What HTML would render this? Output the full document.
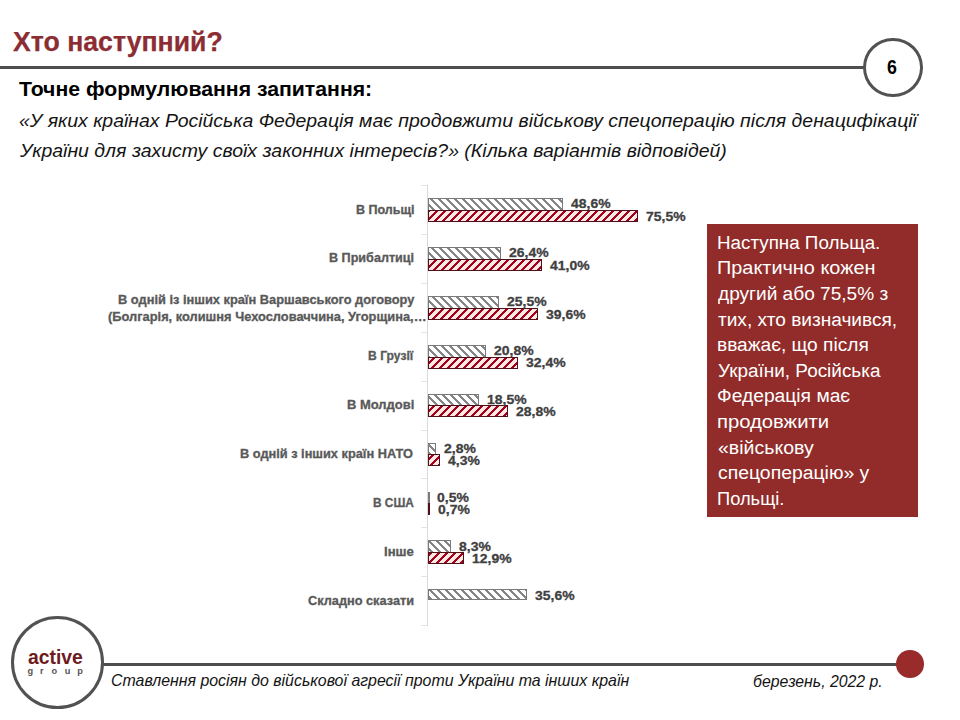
<!DOCTYPE html>
<html><head><meta charset="utf-8"><title>slide</title>
<style>
html,body{margin:0;padding:0;background:#fff;}
body{width:960px;height:720px;position:relative;overflow:hidden;font-family:"Liberation Sans",sans-serif;}
.t{position:absolute;white-space:nowrap;line-height:0;transform-origin:0 0;}
.s{position:absolute;}
#hline{left:0;top:65.8px;width:866px;height:3px;background:#4e4e4e;}
#pgc{left:863.3px;top:38.3px;width:53.4px;height:52.4px;border:3px solid #525252;border-radius:50%;background:#fff;}
#axis{left:427px;top:185px;width:1px;height:441px;background:#d9d9d9;}
.tick{position:absolute;left:421px;width:6px;height:1px;background:#e3e3e3;}
.bar{position:absolute;box-sizing:border-box;}
.g{border:1px solid #7a7a7a;background-image:linear-gradient(45deg,#858585 0%,#858585 7.4%,#ffffff 7.4%,#ffffff 38.8%,#858585 38.8%,#858585 57.4%,#ffffff 57.4%,#ffffff 88.8%,#858585 88.8%);background-size:8px 8px;}
.r{border:1px solid #50101a;background-image:linear-gradient(135deg,#a3001f 0%,#a3001f 9.7%,#fde8e2 9.7%,#fde8e2 41.5%,#a3001f 41.5%,#a3001f 59.7%,#fde8e2 59.7%,#fde8e2 91.5%,#a3001f 91.5%);background-size:8px 8px;}
#box{left:707.1px;top:224px;width:210.9px;height:293px;background:#912c2a;}
#lc{left:10.7px;top:616.1px;width:87.2px;height:87.2px;border:3px solid #525252;border-radius:50%;background:#fff;}
#fline{left:100px;top:662.7px;width:805px;height:3px;background:#4e4e4e;}
#dot{left:896.2px;top:650px;width:27.6px;height:27.6px;border-radius:50%;background:#9a2b2b;}
.gl{position:absolute;top:670.9px;width:20px;text-align:center;font-size:9.2px;font-weight:bold;color:#555;line-height:0;}
</style></head>
<body>
<div class="s" id="hline"></div>
<div class="s" id="pgc"></div>
<div class="s" id="axis"></div>
<div class="tick" style="top:185.0px"></div><div class="tick" style="top:233.9px"></div><div class="tick" style="top:282.8px"></div><div class="tick" style="top:331.7px"></div><div class="tick" style="top:380.6px"></div><div class="tick" style="top:429.5px"></div><div class="tick" style="top:478.4px"></div><div class="tick" style="top:527.3px"></div><div class="tick" style="top:576.2px"></div><div class="tick" style="top:625.1px"></div>
<div class="bar g" style="left:428px;top:198px;width:135.34px;height:13px;background-position:-429px -199px"></div><div class="bar r" style="left:428px;top:210px;width:210.42px;height:12px;background-position:-429px -211px"></div><div class="bar g" style="left:428px;top:247px;width:73.38px;height:13px;background-position:-429px -248px"></div><div class="bar r" style="left:428px;top:259px;width:114.13px;height:12px;background-position:-429px -260px"></div><div class="bar g" style="left:428px;top:296px;width:70.87px;height:13px;background-position:-429px -297px"></div><div class="bar r" style="left:428px;top:308px;width:110.22px;height:12px;background-position:-429px -309px"></div><div class="bar g" style="left:428px;top:345px;width:57.75px;height:13px;background-position:-429px -346px"></div><div class="bar r" style="left:428px;top:357px;width:90.13px;height:12px;background-position:-429px -358px"></div><div class="bar g" style="left:428px;top:394px;width:51.33px;height:12px;background-position:-429px -395px"></div><div class="bar r" style="left:428px;top:405px;width:80.08px;height:12px;background-position:-429px -406px"></div><div class="bar g" style="left:428px;top:443px;width:7.51px;height:12px;background-position:-429px -444px"></div><div class="bar r" style="left:428px;top:454px;width:11.70px;height:12px;background-position:-429px -455px"></div><div class="bar g" style="left:428px;top:492px;width:1.20px;height:12px;background-position:-429px -493px"></div><div class="bar r" style="left:428px;top:503px;width:1.65px;height:12px;background-position:-429px -504px"></div><div class="bar g" style="left:428px;top:540px;width:22.87px;height:13px;background-position:-429px -541px"></div><div class="bar r" style="left:428px;top:552px;width:35.70px;height:12px;background-position:-429px -553px"></div><div class="bar g" style="left:428px;top:589px;width:99.06px;height:11px;background-position:-429px -590px"></div>
<div class="s" id="box"></div>
<div class="s" id="fline"></div>
<div class="s" id="lc"></div>
<div class="s" id="dot"></div>
<div class="gl" style="left:20.2px">g</div><div class="gl" style="left:31.799999999999997px">r</div><div class="gl" style="left:44.35px">o</div><div class="gl" style="left:57.5px">u</div><div class="gl" style="left:70.15px">p</div>
<div class="t" id="t0" style="left:12.80px;top:41.51px;font-size:26.8px;font-weight:bold;font-style:normal;color:#8b2d33;transform:scaleX(0.9949);-webkit-text-stroke:0.25px #8b2d33;">Хто наступний?</div>
<div class="t" id="t1" style="left:19.40px;top:88.89px;font-size:20.8px;font-weight:bold;font-style:normal;color:#000;transform:scaleX(1.0207);">Точне формулювання запитання:</div>
<div class="t" id="t2" style="left:18.80px;top:120.92px;font-size:19.0px;font-weight:normal;font-style:italic;color:#141414;transform:scaleX(1.0233);">«У яких країнах Російська Федерація має продовжити військову спецоперацію після денацифікації</div>
<div class="t" id="t3" style="left:19.82px;top:150.92px;font-size:19.0px;font-weight:normal;font-style:italic;color:#141414;transform:scaleX(1.0245);">України для захисту своїх законних інтересів?» (Кілька варіантів відповідей)</div>
<div class="t" id="t4" style="left:887.20px;top:66.54px;font-size:19.5px;font-weight:bold;font-style:normal;color:#000;transform:scaleX(0.9091);">6</div>
<div class="t" id="t5" style="left:355.60px;top:209.55px;font-size:12.4px;font-weight:bold;font-style:normal;color:#595959;transform:scaleX(1.0104);-webkit-text-stroke:0.3px #595959;">В Польщі</div>
<div class="t" id="t6" style="left:571.34px;top:204.38px;font-size:13.2px;font-weight:bold;font-style:normal;color:#404040;transform:scaleX(1.0580);-webkit-text-stroke:0.3px #404040;">48,6%</div>
<div class="t" id="t7" style="left:646.42px;top:216.78px;font-size:13.2px;font-weight:bold;font-style:normal;color:#404040;transform:scaleX(1.0580);-webkit-text-stroke:0.3px #404040;">75,5%</div>
<div class="t" id="t8" style="left:329.10px;top:258.45px;font-size:12.4px;font-weight:bold;font-style:normal;color:#595959;transform:scaleX(1.0168);-webkit-text-stroke:0.3px #595959;">В Прибалтиці</div>
<div class="t" id="t9" style="left:509.38px;top:253.28px;font-size:13.2px;font-weight:bold;font-style:normal;color:#404040;transform:scaleX(1.0580);-webkit-text-stroke:0.3px #404040;">26,4%</div>
<div class="t" id="t10" style="left:550.13px;top:265.68px;font-size:13.2px;font-weight:bold;font-style:normal;color:#404040;transform:scaleX(1.0580);-webkit-text-stroke:0.3px #404040;">41,0%</div>
<div class="t" id="t11" style="left:117.90px;top:299.55px;font-size:12.4px;font-weight:bold;font-style:normal;color:#595959;transform:scaleX(1.0351);-webkit-text-stroke:0.3px #595959;">В одній із інших країн Варшавського договору</div>
<div class="t" id="t12" style="left:107.60px;top:316.75px;font-size:12.4px;font-weight:bold;font-style:normal;color:#595959;transform:scaleX(1.0371);-webkit-text-stroke:0.3px #595959;">(Болгарія, колишня Чехословаччина, Угорщина,…</div>
<div class="t" id="t13" style="left:506.87px;top:302.18px;font-size:13.2px;font-weight:bold;font-style:normal;color:#404040;transform:scaleX(1.0580);-webkit-text-stroke:0.3px #404040;">25,5%</div>
<div class="t" id="t14" style="left:546.22px;top:314.58px;font-size:13.2px;font-weight:bold;font-style:normal;color:#404040;transform:scaleX(1.0580);-webkit-text-stroke:0.3px #404040;">39,6%</div>
<div class="t" id="t15" style="left:368.00px;top:356.25px;font-size:12.4px;font-weight:bold;font-style:normal;color:#595959;transform:scaleX(0.9791);-webkit-text-stroke:0.3px #595959;">В Грузії</div>
<div class="t" id="t16" style="left:493.75px;top:351.08px;font-size:13.2px;font-weight:bold;font-style:normal;color:#404040;transform:scaleX(1.0580);-webkit-text-stroke:0.3px #404040;">20,8%</div>
<div class="t" id="t17" style="left:526.13px;top:363.48px;font-size:13.2px;font-weight:bold;font-style:normal;color:#404040;transform:scaleX(1.0580);-webkit-text-stroke:0.3px #404040;">32,4%</div>
<div class="t" id="t18" style="left:346.90px;top:405.15px;font-size:12.4px;font-weight:bold;font-style:normal;color:#595959;transform:scaleX(1.0455);-webkit-text-stroke:0.3px #595959;">В Молдові</div>
<div class="t" id="t19" style="left:487.33px;top:399.98px;font-size:13.2px;font-weight:bold;font-style:normal;color:#404040;transform:scaleX(1.0580);-webkit-text-stroke:0.3px #404040;">18,5%</div>
<div class="t" id="t20" style="left:516.08px;top:412.38px;font-size:13.2px;font-weight:bold;font-style:normal;color:#404040;transform:scaleX(1.0580);-webkit-text-stroke:0.3px #404040;">28,8%</div>
<div class="t" id="t21" style="left:240.40px;top:454.05px;font-size:12.4px;font-weight:bold;font-style:normal;color:#595959;transform:scaleX(1.0312);-webkit-text-stroke:0.3px #595959;">В одній з інших країн НАТО</div>
<div class="t" id="t22" style="left:443.51px;top:448.88px;font-size:13.2px;font-weight:bold;font-style:normal;color:#404040;transform:scaleX(1.0580);-webkit-text-stroke:0.3px #404040;">2,8%</div>
<div class="t" id="t23" style="left:447.70px;top:461.28px;font-size:13.2px;font-weight:bold;font-style:normal;color:#404040;transform:scaleX(1.0580);-webkit-text-stroke:0.3px #404040;">4,3%</div>
<div class="t" id="t24" style="left:372.80px;top:502.95px;font-size:12.4px;font-weight:bold;font-style:normal;color:#595959;transform:scaleX(0.9558);-webkit-text-stroke:0.3px #595959;">В США</div>
<div class="t" id="t25" style="left:437.10px;top:497.78px;font-size:13.2px;font-weight:bold;font-style:normal;color:#404040;transform:scaleX(1.0580);-webkit-text-stroke:0.3px #404040;">0,5%</div>
<div class="t" id="t26" style="left:437.65px;top:510.18px;font-size:13.2px;font-weight:bold;font-style:normal;color:#404040;transform:scaleX(1.0580);-webkit-text-stroke:0.3px #404040;">0,7%</div>
<div class="t" id="t27" style="left:383.70px;top:551.85px;font-size:12.4px;font-weight:bold;font-style:normal;color:#595959;transform:scaleX(1.0618);-webkit-text-stroke:0.3px #595959;">Інше</div>
<div class="t" id="t28" style="left:458.87px;top:546.68px;font-size:13.2px;font-weight:bold;font-style:normal;color:#404040;transform:scaleX(1.0580);-webkit-text-stroke:0.3px #404040;">8,3%</div>
<div class="t" id="t29" style="left:471.70px;top:559.08px;font-size:13.2px;font-weight:bold;font-style:normal;color:#404040;transform:scaleX(1.0580);-webkit-text-stroke:0.3px #404040;">12,9%</div>
<div class="t" id="t30" style="left:308.30px;top:600.75px;font-size:12.4px;font-weight:bold;font-style:normal;color:#595959;transform:scaleX(1.0282);-webkit-text-stroke:0.3px #595959;">Складно сказати</div>
<div class="t" id="t31" style="left:535.06px;top:595.58px;font-size:13.2px;font-weight:bold;font-style:normal;color:#404040;transform:scaleX(1.0580);-webkit-text-stroke:0.3px #404040;">35,6%</div>
<div class="t" id="t32" style="left:716.83px;top:242.65px;font-size:17.6px;font-weight:normal;font-style:normal;color:#ffffff;transform:scaleX(1.0683);">Наступна Польща.</div>
<div class="t" id="t33" style="left:716.77px;top:268.28px;font-size:17.6px;font-weight:normal;font-style:normal;color:#ffffff;transform:scaleX(1.1293);">Практично кожен</div>
<div class="t" id="t34" style="left:717.90px;top:293.91px;font-size:17.6px;font-weight:normal;font-style:normal;color:#ffffff;transform:scaleX(1.0840);">другий або 75,5% з</div>
<div class="t" id="t35" style="left:717.90px;top:319.54px;font-size:17.6px;font-weight:normal;font-style:normal;color:#ffffff;transform:scaleX(1.0832);">тих, хто визначився,</div>
<div class="t" id="t36" style="left:716.81px;top:345.17px;font-size:17.6px;font-weight:normal;font-style:normal;color:#ffffff;transform:scaleX(1.0874);">вважає, що після</div>
<div class="t" id="t37" style="left:717.90px;top:370.80px;font-size:17.6px;font-weight:normal;font-style:normal;color:#ffffff;transform:scaleX(1.0761);">України, Російська</div>
<div class="t" id="t38" style="left:716.81px;top:396.43px;font-size:17.6px;font-weight:normal;font-style:normal;color:#ffffff;transform:scaleX(1.0947);">Федерація має</div>
<div class="t" id="t39" style="left:716.75px;top:422.06px;font-size:17.6px;font-weight:normal;font-style:normal;color:#ffffff;transform:scaleX(1.1500);">продовжити</div>
<div class="t" id="t40" style="left:717.90px;top:447.69px;font-size:17.6px;font-weight:normal;font-style:normal;color:#ffffff;transform:scaleX(1.1102);">«військову</div>
<div class="t" id="t41" style="left:717.90px;top:473.32px;font-size:17.6px;font-weight:normal;font-style:normal;color:#ffffff;transform:scaleX(1.1018);">спецоперацію» у</div>
<div class="t" id="t42" style="left:716.86px;top:498.95px;font-size:17.6px;font-weight:normal;font-style:normal;color:#ffffff;transform:scaleX(1.0404);">Польщі.</div>
<div class="t" id="t43" style="left:111.30px;top:680.29px;font-size:16.2px;font-weight:normal;font-style:italic;color:#141414;transform:scaleX(0.9824);">Ставлення росіян до військової агресії проти України та інших країн</div>
<div class="t" id="t44" style="left:752.70px;top:682.16px;font-size:16.0px;font-weight:normal;font-style:italic;color:#141414;transform:scaleX(0.9891);">березень, 2022 р.</div>
<div class="t" id="t45" style="left:27.80px;top:657.71px;font-size:19.3px;font-weight:bold;font-style:normal;color:#6e1a1e;transform:scaleX(1.0028);">active</div>
</body></html>
